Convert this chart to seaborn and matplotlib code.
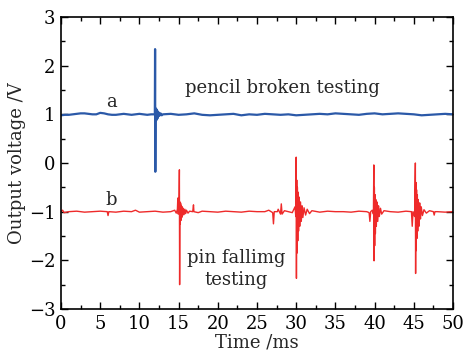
import matplotlib
matplotlib.use("Agg")
import matplotlib.pyplot as plt
import seaborn as sns
from matplotlib.ticker import MultipleLocator

sns.set_style("ticks")
plt.rcParams['font.family'] = ['DejaVu Serif']

# ---- data: signal a (pencil broken testing) ----
blue_time = [0, 0.5, 1, 1.5, 2, 2.5, 3, 3.5, 4, 4.5, 5, 5.5, 6, 6.5, 7, 7.5, 8, 8.5, 9, 9.5,
             10, 10.5, 11, 11.5, 11.97,
             12.0, 12.03, 12.06, 12.1, 12.15, 12.2, 12.25, 12.3, 12.35, 12.45, 12.55,
             12.7, 12.85, 13,
             14, 15, 16, 17, 18, 19, 20, 21, 22, 23, 24, 25, 26, 27, 28, 29, 30, 31, 32,
             33, 34, 35, 36, 37, 38, 39, 40, 41, 42, 43, 44, 45, 46, 47, 48, 49, 50]
blue_volt = [0.98, 0.99, 0.99, 1.0, 1.01, 1.02, 1.02, 1.01, 1.0, 1.0, 1.03, 1.02, 1.0, 0.99,
             0.99, 1.0, 1.01, 1.0, 0.99, 1.0, 1.01, 1.0, 0.99, 1.0, 1.0,
             2.34, -0.18, 1.0, 1.12, 0.88, 1.1, 0.9, 1.07, 0.93, 1.04, 0.97,
             1.02, 0.98, 1.0,
             1.01, 0.99, 1.0, 1.02, 0.99, 0.98, 0.99, 1.0, 1.01, 0.98, 1.0, 0.99, 1.01,
             1.0, 0.99, 1.0, 0.98, 0.99, 1.0, 1.01, 1.0, 1.02, 1.01, 1.0, 0.99, 1.01,
             1.02, 1.0, 1.01, 1.02, 1.01, 1.0, 0.98, 0.99, 1.0, 1.01, 1.0]

# ---- data: signal b (pin falling testing) ----
red_time = [0, 0.2, 0.4, 1, 2, 3, 4, 5, 5.9, 6.0, 6.1, 7, 8, 9, 9.5, 10, 11, 12, 13, 14, 14.5,
            14.7, 14.85, 14.9, 14.95, 15.05,
            15.1, 15.13, 15.17, 15.21, 15.25, 15.3, 15.35, 15.4, 15.45, 15.5, 15.6, 15.7,
            15.8, 15.9, 16.0, 16.2, 16.4, 16.8, 16.9, 16.95, 17.5, 18, 19, 20, 21, 22, 23,
            24, 25, 26, 26.5, 27.0, 27.1, 27.2, 27.6, 27.7, 28.0, 28.1, 28.2, 28.5, 29,
            29.5, 29.85,
            29.95, 30.0, 30.03, 30.07, 30.11, 30.15, 30.2, 30.25, 30.3, 30.37, 30.45, 30.55,
            30.65, 30.75, 30.85, 31, 31.2, 31.4, 31.7, 32, 33, 34, 35, 36, 37, 38, 39,
            39.3, 39.4, 39.5, 39.7,
            39.85, 39.9, 39.93, 39.97, 40.01, 40.05, 40.1, 40.15, 40.22, 40.3, 40.4, 40.5,
            40.6, 40.75, 40.9, 41.2, 42, 43, 44, 44.7, 44.8, 44.9,
            45.1, 45.2, 45.23, 45.27, 45.31, 45.35, 45.4, 45.45, 45.5, 45.57, 45.65, 45.75,
            45.85, 45.95, 46.1, 46.3, 46.6, 47, 47.5, 47.6, 47.7, 48, 49, 50]
red_volt = [-1.0, -0.97, -1.02, -1.0, -0.99, -1.01, -1.0, -0.99, -1.0, -1.08, -1.0, -1.01,
            -0.99, -1.0, -0.97, -1.01, -1.0, -0.99, -1.01, -1.0, -0.97,
            -1.03, -0.95, -0.72, -1.05, -0.95,
            -0.14, -2.5, -0.8, -1.25, -0.82, -1.18, -0.87, -1.12, -0.9, -1.08, -0.93, -1.06,
            -0.95, -1.04, -0.97, -1.03, -0.99, -1.0, -0.86, -1.0, -1.02, -0.99, -1.0, -1.01,
            -0.99, -1.0, -1.01, -0.99, -1.0, -1.0, -0.97, -1.02, -1.25, -1.0, -1.0, -0.95,
            -1.05, -0.84, -1.05, -0.98, -1.0, -1.02, -0.9,
            -1.1, 0.12, -2.37, -0.35, -1.85, -0.5, -1.6, -0.6, -1.4, -0.7, -1.3, -0.8,
            -1.2, -0.88, -1.12, -0.92, -1.07, -0.95, -1.04, -0.98, -1.01, -0.99, -1.0,
            -1.0, -1.01, -0.99, -1.0,
            -1.02, -1.2, -1.0, -0.97,
            -1.05, -0.04, -2.01, -0.5, -1.7, -0.65, -1.45, -0.75, -1.3, -0.8, -1.2, -0.88,
            -1.1, -0.93, -1.05, -0.98, -1.0, -1.01, -0.99, -1.0, -1.3, -1.0,
            -1.1, 0.0, -2.27, -0.4, -1.8, -0.55, -1.55, -0.65, -1.4, -0.75, -1.3, -0.82,
            -1.15, -0.9, -1.08, -0.96, -1.03, -0.98, -1.0, -1.07, -1.0, -1.0, -1.01, -1.0]

x_ticks = [0, 5, 10, 15, 20, 25, 30, 35, 40, 45, 50]
y_ticks = [-3, -2, -1, 0, 1, 2, 3]

fig = plt.figure(figsize=(4.64, 3.62), dpi=100)
ax = fig.add_axes([61/464, 1 - 309/362, (453-61)/464, (309-17)/362])

sns.lineplot(x=blue_time, y=blue_volt, ax=ax, color="#2b59a8", linewidth=1.6,
             estimator=None, sort=False)
sns.lineplot(x=red_time, y=red_volt, ax=ax, color="#ee2a2a", linewidth=1.0,
             estimator=None, sort=False)

ax.set_xlim(0, 50)
ax.set_ylim(-3, 3)
ax.set_xticks(x_ticks)
ax.set_yticks(y_ticks)
ax.set_xticklabels([str(v) for v in x_ticks])
ax.set_yticklabels([str(v).replace('-', '\u2212') for v in y_ticks])
ax.xaxis.set_minor_locator(MultipleLocator(2.5))
ax.yaxis.set_minor_locator(MultipleLocator(0.5))
ax.tick_params(which='both', direction='in', top=True, right=True, labelsize=13,
               width=1.0, colors='black')
ax.tick_params(which='major', length=5, pad=4)
ax.tick_params(which='minor', length=3)
for s in ax.spines.values():
    s.set_linewidth(1.2)
    s.set_color('black')

ax.set_xlabel("Time /ms", fontsize=13, labelpad=1)
ax.set_ylabel("Output voltage /V", fontsize=13, labelpad=2)

ax.text(6.5, 1.25, "a", fontsize=13, ha='center', va='center')
ax.text(6.4, -0.77, "b", fontsize=13, ha='center', va='center')
ax.text(28.3, 1.55, "pencil broken testing", fontsize=13, ha='center', va='center')
ax.text(22.3, -2.17, "pin fallimg\ntesting", fontsize=13, ha='center', va='center',
        linespacing=1.3)

fig.savefig("out.png", dpi=100, facecolor='white')
